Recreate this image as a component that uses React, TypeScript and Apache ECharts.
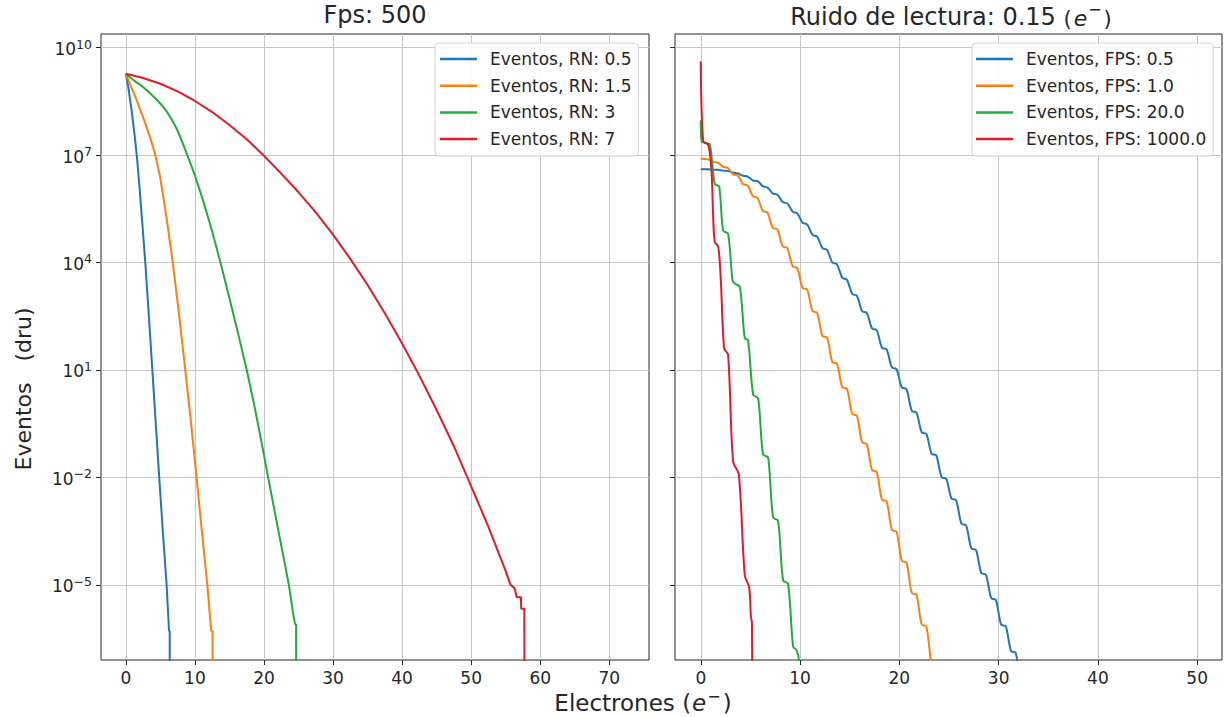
import React, { useEffect, useRef } from 'react';
import * as echarts from 'echarts';

const FONT = '"DejaVu Sans", Verdana, sans-serif';
const INK = '#262626';

// Each point: [electrons, log10(events)]
// Left panel, 500 fps, different read noise
const rn05 = [
  [0, 9.27], [0.35, 8.9], [0.85, 8.22], [1.3, 7.5], [1.65, 6.85], [2.0, 6.05],
  [2.4, 5.05], [2.85, 3.9], [3.35, 2.45], [3.82, 1.05], [4.33, -0.5], [4.83, -2.0],
  [5.35, -3.5], [5.9, -5.0], [6.25, -6.28], [6.35, -6.3], [6.37, -9],
];
const rn15 = [
  [0, 9.27], [0.6, 8.98], [1.3, 8.66], [2.05, 8.28], [2.8, 7.9], [3.5, 7.5],
  [4.2, 7.05], [4.95, 6.4], [5.85, 5.3], [6.76, 4.05], [7.7, 2.55], [8.6, 1.0],
  [9.45, -0.5], [10.24, -2.0], [11.0, -3.5], [11.8, -5.0], [12.35, -6.28],
  [12.55, -6.3], [12.57, -9],
];
const rn3 = [
  [0, 9.27], [1.06, 9.1], [2.3, 8.93], [3.48, 8.73], [4.7, 8.5], [5.3, 8.37], [5.9, 8.22],
  [6.4, 8.07], [6.9, 7.9], [7.4, 7.72], [7.83, 7.53], [8.9, 7.0], [10.0, 6.43], [11.2, 5.72],
  [12.45, 4.9], [13.7, 4.0], [15.0, 3.0], [16.25, 2.02], [17.5, 1.0], [18.5, 0.1],
  [19.55, -0.92], [20.6, -2.0], [22.1, -3.5], [23.6, -5.0], [24.27, -5.86], [24.5, -6.1],
  [24.65, -6.1], [24.67, -9],
];
const rn7 = [
  [0, 9.27], [2.5, 9.15], [5, 8.99], [7.5, 8.78], [10, 8.51], [12.5, 8.2],
  [15, 7.84], [17.5, 7.44], [20, 6.98], [22.5, 6.48], [25, 5.96], [27.5, 5.4],
  [30, 4.78], [32.5, 4.1], [35, 3.37], [37.5, 2.58], [40, 1.74], [42.5, 0.84],
  [45, -0.12], [47.5, -1.13], [50, -2.25], [52.5, -3.38], [55, -4.62], [55.7, -5.0],
  [56.3, -5.1], [56.6, -5.35], [57.2, -5.35], [57.25, -5.67], [57.7, -5.67], [57.72, -9],
];

// Right panel, read noise 0.15 e-, different frame rates
const fps05 = [
  [0, 6.6], [0.72, 6.6], [1.25, 6.59], [1.72, 6.59], [2.25, 6.565], [2.72, 6.555],
  [3.25, 6.51], [3.72, 6.49], [4.25, 6.42], [4.72, 6.4], [5.25, 6.29], [5.72, 6.27],
  [6.25, 6.13], [6.72, 6.09], [7.25, 5.93], [7.72, 5.89], [8.25, 5.69], [8.72, 5.65],
  [9.25, 5.42], [9.72, 5.37], [10.25, 5.11], [10.72, 5.06], [11.25, 4.77], [11.72, 4.72],
  [12.25, 4.4], [12.72, 4.35], [13.25, 4.0], [13.72, 3.95], [14.25, 3.57], [14.72, 3.52],
  [15.25, 3.12], [15.72, 3.07], [16.25, 2.64], [16.72, 2.59], [17.25, 2.16], [17.72, 2.11],
  [18.25, 1.62], [18.72, 1.57], [19.25, 1.07], [19.72, 1.02], [20.25, 0.51], [20.72, 0.46],
  [21.25, -0.14], [21.72, -0.19], [22.25, -0.74], [22.72, -0.79], [23.25, -1.34], [23.72, -1.39],
  [24.25, -1.99], [24.72, -2.04], [25.25, -2.59], [25.72, -2.64], [26.25, -3.29], [26.72, -3.34],
  [27.25, -3.98], [27.72, -4.03], [28.25, -4.67], [28.72, -4.72], [29.25, -5.37], [29.72, -5.42],
  [30.25, -6.11], [30.72, -6.16], [31.25, -6.85], [31.72, -6.9], [32.0, -7.5],
];
const fps1 = [
  [0, 6.9], [0.72, 6.88], [1.25, 6.81], [1.72, 6.79], [2.25, 6.67], [2.72, 6.64],
  [3.25, 6.46], [3.72, 6.43], [4.25, 6.19], [4.72, 6.15], [5.25, 5.85], [5.72, 5.8],
  [6.25, 5.44], [6.72, 5.39], [7.25, 4.97], [7.72, 4.92], [8.25, 4.45], [8.72, 4.4],
  [9.25, 3.89], [9.72, 3.84], [10.25, 3.29], [10.72, 3.24], [11.25, 2.64], [11.72, 2.59],
  [12.25, 1.95], [12.72, 1.9], [13.25, 1.22], [13.72, 1.17], [14.25, 0.52], [14.72, 0.47],
  [15.25, -0.23], [15.72, -0.28], [16.25, -1.02], [16.72, -1.07], [17.25, -1.8], [17.72, -1.85],
  [18.25, -2.62], [18.72, -2.67], [19.25, -3.47], [19.72, -3.52], [20.25, -4.33], [20.72, -4.38],
  [21.25, -5.23], [21.72, -5.28], [22.25, -6.11], [22.72, -6.16], [23.3, -7.6],
];
const fps20 = [
  [0, 7.97], [0.07, 7.39], [0.5, 7.33], [0.9, 7.3], [1.41, 6.19], [1.85, 6.12],
  [2.25, 4.89], [2.75, 4.8], [3.19, 3.5], [3.42, 3.41], [3.93, 3.32], [4.43, 1.88],
  [4.76, 1.83], [5.27, 0.31], [5.77, 0.21], [6.27, -1.36], [6.78, -1.45], [7.28, -3.12],
  [7.78, -3.21], [8.29, -4.88], [8.79, -4.97], [9.3, -6.73], [9.63, -6.82], [9.9, -7.15],
  [9.95, -9],
];
const fps1000 = [
  [0, 9.61], [0.24, 7.39], [0.74, 7.29], [1.07, 6.6], [1.24, 5.31], [1.41, 4.57],
  [1.75, 4.45], [2.01, 3.55], [2.35, 1.6], [2.75, 1.42], [3.25, -1.55], [3.83, -1.92],
  [4.43, -4.74], [4.87, -5.07], [5.05, -5.9], [5.15, -6.05], [5.2, -9],
];

const leftNames = ['Eventos, RN: 0.5', 'Eventos, RN: 1.5', 'Eventos, RN: 3', 'Eventos, RN: 7'];
const rightNames = ['Eventos, FPS: 0.5', 'Eventos, FPS: 1.0', 'Eventos, FPS: 20.0', 'Eventos, FPS: 1000.0'];
const colors = ['#1f77b4', '#ff7f0e', '#22ac38', '#e3192c'];

const leftXTicks = [0, 10, 20, 30, 40, 50, 60, 70];
const rightXTicks = [0, 10, 20, 30, 40, 50];
const yTickExps = [-5, -2, 1, 4, 7, 10];

const gridLine = { show: true, lineStyle: { color: '#c6c6c6', width: 1 } };

function xAxis(gridIndex: number, min: number, max: number, ticks: number[]) {
  return {
    type: 'value', gridIndex, min, max,
    axisLine: { show: false, onZero: false },
    axisTick: { show: true, length: 5, lineStyle: { color: INK, width: 1 }, customValues: ticks },
    axisLabel: { customValues: ticks, fontSize: 17, color: INK, margin: 9, fontFamily: FONT },
    splitLine: gridLine,
  };
}

function yAxis(gridIndex: number, labels: boolean) {
  return {
    type: 'value', gridIndex, min: -7.1, max: 10.38,
    axisLine: { show: false, onZero: false },
    axisTick: { show: true, length: 5, lineStyle: { color: INK, width: 1 }, customValues: yTickExps },
    axisLabel: {
      show: labels, customValues: yTickExps, margin: 9, fontFamily: FONT,
      formatter: (v: number) => `{b|10}{s|${v < 0 ? '\u2212' : ''}${Math.abs(v)}}`,
      rich: {
        b: { fontSize: 17, color: INK, fontFamily: FONT, lineHeight: 20, verticalAlign: 'bottom' },
        s: { fontSize: 12.5, color: INK, fontFamily: FONT, lineHeight: 12, verticalAlign: 'top' },
      },
    },
    splitLine: gridLine,
  };
}

function legend(names: string[], left: number, padLeft: number) {
  return {
    data: names, orient: 'vertical', left, top: 43,
    icon: 'rect', itemWidth: 37, itemHeight: 2.5, itemGap: 6.7,
    padding: [6, 7, 7, padLeft],
    backgroundColor: 'rgba(255,255,255,0.85)', borderColor: '#d4d4d4', borderWidth: 1, borderRadius: 4,
    textStyle: { fontSize: 17, lineHeight: 20, color: INK, fontFamily: FONT, padding: [0, 0, 0, 8] },
    selectedMode: false,
  };
}

function line(name: string, data: number[][], color: string, axis: number, smooth: number | boolean) {
  return {
    type: 'line', name, data, xAxisIndex: axis, yAxisIndex: axis,
    symbol: 'none', smooth, color,
    lineStyle: { color, width: 2 },
  };
}

export default function App() {
  const ref = useRef<HTMLDivElement>(null);
  useEffect(() => {
    if (!ref.current) return;
    const chart = echarts.init(ref.current, undefined, { renderer: 'svg' });
    const leftData = [rn05, rn15, rn3, rn7];
    const rightData = [fps05, fps1, fps20, fps1000];
    chart.setOption({
      animation: false,
      backgroundColor: '#ffffff',
      textStyle: { fontFamily: FONT },
      grid: [
        { left: 101, top: 34, width: 548, height: 626, show: true, borderColor: INK, borderWidth: 1, backgroundColor: 'transparent' },
        { left: 675, top: 34, width: 547, height: 626, show: true, borderColor: INK, borderWidth: 1, backgroundColor: 'transparent' },
      ],
      xAxis: [xAxis(0, -3.6, 75.75, leftXTicks), xAxis(1, -2.6, 52.5, rightXTicks)],
      yAxis: [yAxis(0, true), yAxis(1, false)],
      legend: [legend(leftNames, 435, 5), legend(rightNames, 972, 4)],
      series: [
        ...leftData.map((d, i) => line(leftNames[i], d, colors[i], 0, false)),
        ...rightData.map((d, i) => line(rightNames[i], d, colors[i], 1, 0.3)),
      ],
      graphic: [
        {
          type: 'text', x: 375, y: 15,
          style: { text: 'Fps: 500', font: `24px ${FONT}`, fill: INK, align: 'center', verticalAlign: 'middle' },
        },
        {
          type: 'text', x: 951, y: 15,
          style: {
            text: '{a|Ruido de lectura: }{a|0.15 }{p|(}{e|e}{s|\u2212}{p|)}',
            align: 'center', verticalAlign: 'middle',
            rich: {
              a: { fontSize: 24, fontFamily: FONT, fill: INK, lineHeight: 28, verticalAlign: 'bottom' },
              p: { fontSize: 21, fontFamily: FONT, fill: INK, lineHeight: 27, verticalAlign: 'bottom' },
              e: { fontSize: 22, fontFamily: FONT, fontStyle: 'italic', fill: INK, lineHeight: 27, verticalAlign: 'bottom', padding: [0, 1, 0, 2] },
              s: { fontSize: 16, fontFamily: FONT, fill: INK, lineHeight: 16, verticalAlign: 'top', padding: [0, 2, 0, 0] },
            },
          },
        },
        {
          type: 'text', x: 643, y: 701,
          style: {
            text: '{a|Electrones (}{e|e}{s|\u2212}{a|)}',
            align: 'center', verticalAlign: 'middle',
            rich: {
              a: { fontSize: 23, fontFamily: FONT, fill: INK, lineHeight: 26, verticalAlign: 'bottom' },
              e: { fontSize: 23, fontFamily: FONT, fontStyle: 'italic', fill: INK, lineHeight: 26, verticalAlign: 'bottom', padding: [0, 1, 0, 1] },
              s: { fontSize: 16, fontFamily: FONT, fill: INK, lineHeight: 15, verticalAlign: 'top', padding: [0, 2, 0, 0] },
            },
          },
        },
        {
          type: 'text', x: 23, y: 389, rotation: Math.PI / 2,
          style: { text: 'Eventos   (dru)', font: `22px ${FONT}`, fill: INK, align: 'center', verticalAlign: 'middle' },
        },
      ],
    });
    return () => chart.dispose();
  }, []);
  return <div ref={ref} style={{ position: 'fixed', left: 0, top: 0, width: 1229, height: 717, background: '#fff' }} />;
}
